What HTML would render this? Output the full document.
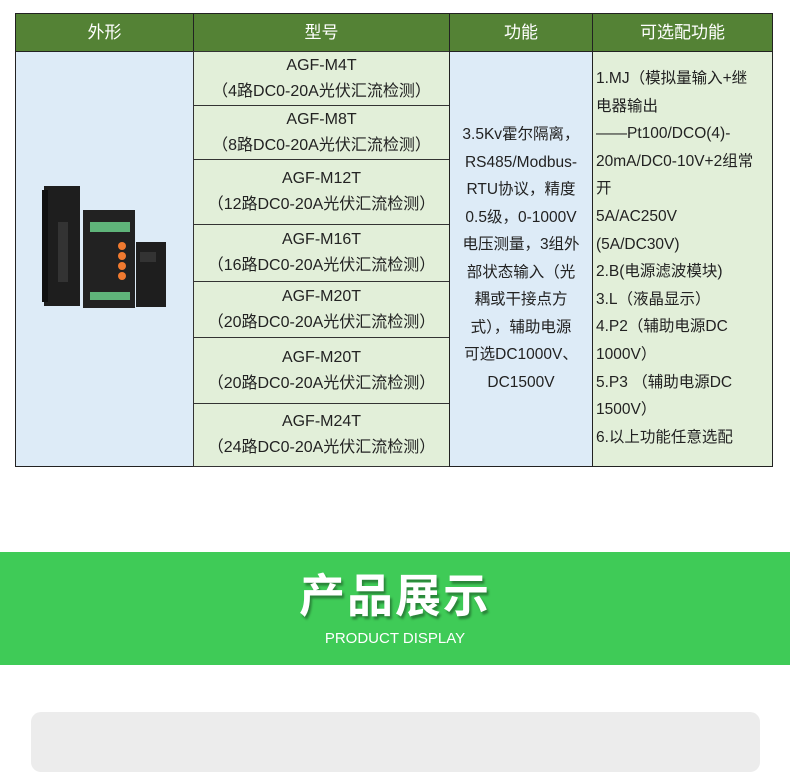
<!DOCTYPE html>
<html><head><meta charset="utf-8"><style>
body{margin:0;width:790px;height:745px;background:#fff;position:relative;overflow:hidden;font-family:"Liberation Sans","Noto Sans CJK SC",sans-serif;color:#222}
.a{position:absolute;box-sizing:border-box}
.h{background:#548235;color:#fff;font-size:17px;text-align:center;line-height:38px;top:13px;height:39px;border:1.5px solid #222}
.m{left:193px;width:257px;background:#e2efd9;border:1px solid #333;text-align:center;font-size:16px;display:flex;flex-direction:column;justify-content:center;line-height:26px}
</style></head><body>
<div class="a h" style="left:15px;width:179px">外形</div>
<div class="a h" style="left:193px;width:257px">型号</div>
<div class="a h" style="left:449px;width:144px">功能</div>
<div class="a h" style="left:592px;width:181px">可选配功能</div>
<div class="a" style="left:15px;top:51px;width:179px;height:416px;background:#ddebf7;border:1.5px solid #222"></div>
<svg class="a" style="left:40px;top:182px" width="132" height="130">
<rect x="4" y="4" width="36" height="120" fill="#1e1e1e"/><rect x="2" y="8" width="6" height="112" fill="#111"/>
<rect x="18" y="40" width="10" height="60" fill="#333"/>
<rect x="43" y="28" width="52" height="98" fill="#222"/><rect x="50" y="40" width="40" height="10" fill="#5fb47a"/><rect x="50" y="110" width="40" height="8" fill="#5fb47a"/>
<circle cx="82" cy="64" r="4" fill="#f07a30"/><circle cx="82" cy="74" r="4" fill="#f07a30"/><circle cx="82" cy="84" r="4" fill="#f07a30"/><circle cx="82" cy="94" r="4" fill="#f07a30"/>
<rect x="96" y="60" width="30" height="65" fill="#1e1e1e"/><rect x="100" y="70" width="16" height="10" fill="#333"/>
</svg>
<div class="a m" style="top:51px;height:55px"><div>AGF-M4T</div><div>（4路DC0-20A光伏汇流检测）</div></div>
<div class="a m" style="top:105px;height:55px"><div>AGF-M8T</div><div>（8路DC0-20A光伏汇流检测）</div></div>
<div class="a m" style="top:159px;height:66px"><div>AGF-M12T</div><div>（12路DC0-20A光伏汇流检测）</div></div>
<div class="a m" style="top:224px;height:58px"><div>AGF-M16T</div><div>（16路DC0-20A光伏汇流检测）</div></div>
<div class="a m" style="top:281px;height:57px"><div>AGF-M20T</div><div>（20路DC0-20A光伏汇流检测）</div></div>
<div class="a m" style="top:337px;height:67px"><div>AGF-M20T</div><div>（20路DC0-20A光伏汇流检测）</div></div>
<div class="a m" style="top:403px;height:64px"><div>AGF-M24T</div><div>（24路DC0-20A光伏汇流检测）</div></div>
<div class="a" style="left:449px;top:51px;width:144px;height:416px;background:#ddebf7;border:1.5px solid #222;font-size:15.5px;line-height:27.5px;text-align:center;padding:69px 2px 0">3.5Kv霍尔隔离，<br>RS485/Modbus-<br>RTU协议，精度<br>0.5级，0-1000V<br>电压测量，3组外<br>部状态输入（光<br>耦或干接点方<br>式），辅助电源<br>可选DC1000V、<br>DC1500V</div>
<div class="a" style="left:592px;top:51px;width:181px;height:416px;background:#e2efd9;border:1.5px solid #222;font-size:15.5px;line-height:27.6px;padding:13px 0 0 3px;white-space:nowrap">1.MJ（模拟量输入+继<br>电器输出<br>——Pt100/DCO(4)-<br>20mA/DC0-10V+2组常<br>开<br>5A/AC250V<br>(5A/DC30V)<br>2.B(电源滤波模块)<br>3.L（液晶显示）<br>4.P2（辅助电源DC<br>1000V）<br>5.P3 （辅助电源DC<br>1500V）<br>6.以上功能任意选配</div>
<div class="a" style="left:0;top:552px;width:790px;height:113px;background:#3fcb57"></div>
<div class="a" style="left:0;top:566px;width:790px;text-align:center;color:#fff;font-size:46px;font-weight:bold;line-height:60px;letter-spacing:2px;text-shadow:2px 3px 2px rgba(0,0,0,.35)">产品展示</div>
<div class="a" style="left:0;top:629px;width:790px;text-align:center;color:#fff;font-size:15px;line-height:20px">PRODUCT DISPLAY</div>
<div class="a" style="left:31px;top:712px;width:729px;height:60px;background:#ececec;border-radius:10px"></div>
</body></html>
